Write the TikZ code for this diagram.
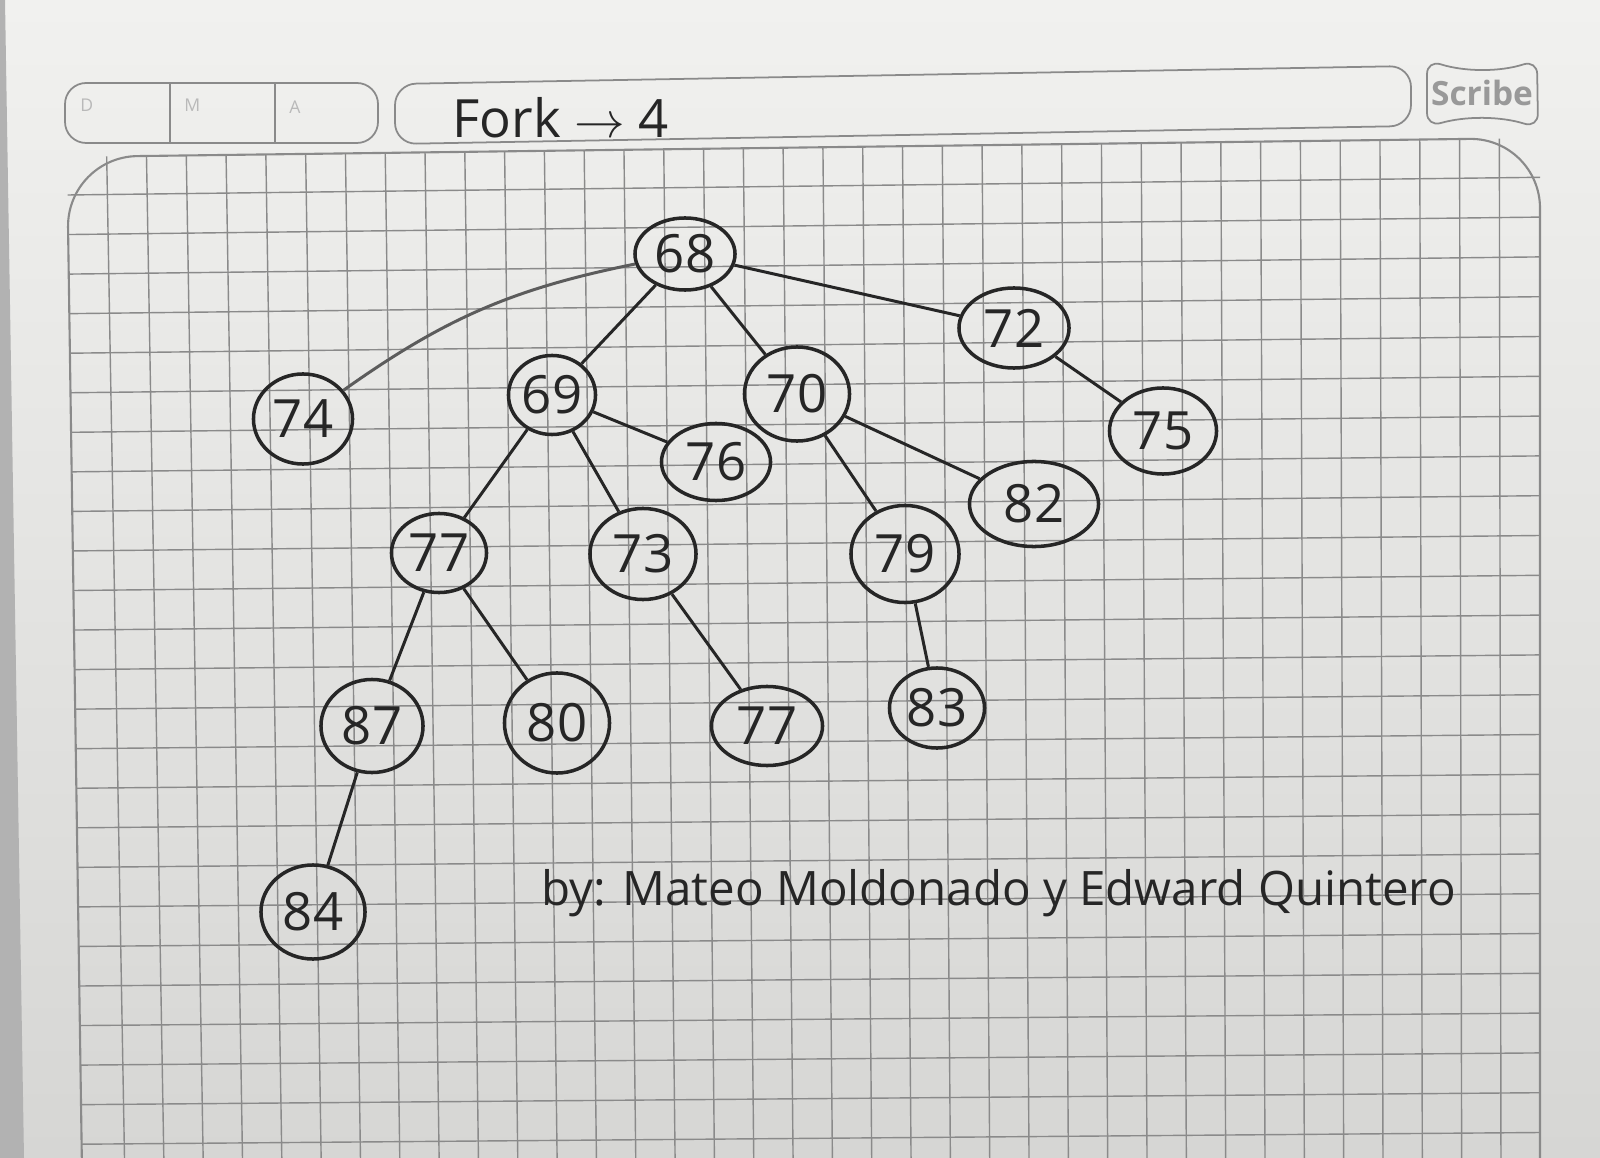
\documentclass[tikz,border=0pt]{standalone}
\usepackage{fontspec}
\setmainfont{Open Sans}
\usepackage{tikz}
\usetikzlibrary{shapes.geometric}

\definecolor{paperTop}{RGB}{241,241,239}
\definecolor{paperBot}{RGB}{214,214,212}
\definecolor{ink}{RGB}{38,38,38}
\definecolor{gridln}{RGB}{138,138,138}

\begin{document}
\begin{tikzpicture}[x=0.01cm, y=-0.01cm, >=latex,
    nodo/.style={ellipse, draw=ink, line width=1pt, inner sep=0pt, text=ink, font=\fontsize{15}{15}\selectfont},
    rama/.style={draw=ink, line width=0.85pt},
    cuadro/.style={draw=gridln, line width=0.5pt, rounded corners=6}]
    \useasboundingbox (0,0) rectangle (1600,1158);

    % 1. Hoja de papel y borde oscuro a la izquierda
    \shade[top color=paperTop, bottom color=paperBot] (0,0) rectangle (1600,1158);
    \fill[gray!60] (0,0) -- (5,0) -- (24,1158) -- (0,1158) -- cycle;

    % 2. Encabezado: fecha, título y marca
    \draw[cuadro] (65,83) rectangle (378,143);
    \draw[gridln, line width=0.5pt] (170,83) -- (170,143);
    \draw[gridln, line width=0.5pt] (275,84) -- (275,143);
    \node[anchor=north west, text=gray!55, font=\fontsize{5}{5}\selectfont] (letraD) at (68,87) {D};
    \node[anchor=north west, text=gray!55, font=\fontsize{5}{5}\selectfont] (letraM) at (172,87) {M};
    \node[anchor=north west, text=gray!55, font=\fontsize{5}{5}\selectfont] (letraA) at (277,88) {A};
    \draw[cuadro] (395,84) -- (1411,66) -- (1411,126) -- (395,144) -- cycle;
    \node[anchor=base west, text=ink, font=\fontsize{15}{15}\selectfont] (titulo) at (440,138) {Fork $\rightarrow$ 4};
    \draw[gridln, line width=0.5pt, rounded corners=4] (1427,60) .. controls (1465,72) and (1500,72) .. (1537,60)
        -- (1538,128) .. controls (1500,116) and (1465,116) .. (1427,127) -- cycle;
    \node[text=gray!80, font=\bfseries\fontsize{9.5}{9.5}\selectfont] (marca) at (1482,93) {Scribe};

    % 3. Cuadrícula (algo inclinada por la foto)
    \foreach \i in {0,...,35} {
        \pgfmathsetmacro{\xt}{106.7+39.79*\i}
        \pgfmathsetmacro{\yt}{157-0.0129*(\xt-67)}
        \pgfmathsetmacro{\xb}{\xt+(15-0.39*\i)*1.187}
        \draw[gridln, line width=0.4pt] (\xt,\yt) -- (\xb,1158);
    }
    \foreach \j in {0,...,24} {
        \pgfmathsetmacro{\yl}{195+39.55*\j}
        \pgfmathsetmacro{\xl}{67+0.015*(\yl-157)}
        \pgfmathsetmacro{\yr}{177.3+39.8*\j}
        \draw[gridln, line width=0.4pt] (\xl,\yl) -- (1540,\yr);
    }
    \draw[gridln, line width=0.6pt, rounded corners=20] (82,1170) -- (67,157) -- (1540,138) -- (1540,1170);

    % 4. Nodos del árbol
    \node[nodo, minimum width=1.00cm, minimum height=0.72cm] (n68) at (685,254) {68};
    \node[nodo, minimum width=1.10cm, minimum height=0.80cm] (n72) at (1014,328) {72};
    \node[nodo, minimum width=0.99cm, minimum height=0.90cm] (n74) at (303,419) {74};
    \node[nodo, minimum width=0.87cm, minimum height=0.79cm] (n69) at (552,395) {69};
    \node[nodo, minimum width=1.05cm, minimum height=0.94cm] (n70) at (797,394) {70};
    \node[nodo, minimum width=1.09cm, minimum height=0.77cm] (n76) at (716,462) {76};
    \node[nodo, minimum width=1.07cm, minimum height=0.86cm] (n75) at (1163,431) {75};
    \node[nodo, minimum width=1.29cm, minimum height=0.85cm] (n82) at (1034,504) {82};
    \node[nodo, minimum width=0.95cm, minimum height=0.79cm] (n77a) at (439,553) {77};
    \node[nodo, minimum width=1.06cm, minimum height=0.91cm] (n73) at (643,554) {73};
    \node[nodo, minimum width=1.08cm, minimum height=0.97cm] (n79) at (905,554) {79};
    \node[nodo, minimum width=1.02cm, minimum height=0.93cm] (n87) at (372,726) {87};
    \node[nodo, minimum width=1.05cm, minimum height=1.00cm] (n80) at (557,723) {80};
    \node[nodo, minimum width=1.11cm, minimum height=0.79cm] (n77b) at (767,726) {77};
    \node[nodo, minimum width=0.95cm, minimum height=0.80cm] (n83) at (937,708) {83};
    \node[nodo, minimum width=1.04cm, minimum height=0.94cm] (n84) at (313,912) {84};

    % 5. Ramas
    \draw[rama, draw=ink!75] (n68) to[bend right=12] (n74);
    \draw[rama] (n68) -- (n72);
    \draw[rama] (n68) -- (n69);
    \draw[rama] (n68) -- (n70);
    \draw[rama] (n72) -- (n75);
    \draw[rama] (n69) -- (n76);
    \draw[rama] (n69) -- (n77a);
    \draw[rama] (n69) -- (n73);
    \draw[rama] (n70) -- (n82);
    \draw[rama] (n70) -- (n79);
    \draw[rama] (n77a) -- (n87);
    \draw[rama] (n77a) -- (n80);
    \draw[rama] (n73) -- (n77b);
    \draw[rama] (n79) -- (n83);
    \draw[rama] (n87) -- (n84);

    % 6. Autores
    \node[anchor=base west, text=ink, font=\fontsize{13.5}{13.5}\selectfont] (autores) at (529,905) {by: Mateo Moldonado y Edward Quintero};
\end{tikzpicture}
\end{document}
